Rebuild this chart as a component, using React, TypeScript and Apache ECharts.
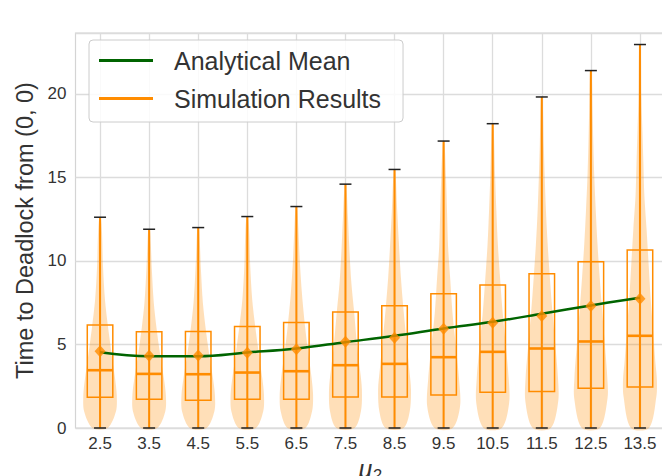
import React, { useEffect, useRef } from "react";
import * as echarts from "echarts";

const categories = ["2.5", "3.5", "4.5", "5.5", "6.5", "7.5", "8.5", "9.5", "10.5", "11.5", "12.5", "13.5"];
const yTicks = [0, 5, 10, 15, 20];
const minVals = [0, 0, 0, 0, 0, 0, 0, 0, 0, 0, 0, 0];
const q1Vals = [1.84, 1.72, 1.66, 1.72, 1.72, 1.86, 1.86, 1.98, 2.14, 2.18, 2.38, 2.46];
const medianVals = [3.46, 3.24, 3.22, 3.32, 3.4, 3.76, 3.84, 4.24, 4.56, 4.76, 5.18, 5.52];
const q3Vals = [6.16, 5.76, 5.78, 6.08, 6.32, 6.94, 7.32, 8.04, 8.56, 9.24, 9.96, 10.66];
const maxVals = [12.62, 11.9, 12.0, 12.66, 13.26, 14.6, 15.48, 17.18, 18.22, 19.82, 21.4, 22.96];
const simMeans = [4.6, 4.32, 4.34, 4.5, 4.72, 5.16, 5.4, 5.94, 6.3, 6.7, 7.3, 7.74];
const analyticalMeans = [4.54, 4.3, 4.3, 4.52, 4.76, 5.14, 5.52, 5.96, 6.36, 6.84, 7.34, 7.8];

// violin outline: [y value, full width as a fraction of the category band]
const violinProfiles: number[][][] = [
  [[0, 0.31], [1, 0.65], [2, 0.68], [3, 0.61], [4, 0.51], [5, 0.42], [6, 0.33], [7.7, 0.2], [9.7, 0.12], [11.7, 0.08], [12.62, 0.03]],
  [[0, 0.33], [1, 0.66], [2, 0.68], [3, 0.6], [4, 0.49], [5, 0.39], [6, 0.3], [7.5, 0.19], [9.5, 0.11], [11, 0.07], [11.9, 0.03]],
  [[0, 0.34], [1, 0.66], [2, 0.68], [3, 0.6], [4, 0.49], [5, 0.39], [6, 0.3], [7.5, 0.19], [9.5, 0.11], [11, 0.07], [12.0, 0.03]],
  [[0, 0.35], [1, 0.65], [2, 0.68], [3, 0.61], [4, 0.51], [5, 0.42], [6, 0.33], [7.7, 0.2], [9.7, 0.12], [11.7, 0.08], [12.66, 0.03]],
  [[0, 0.36], [1, 0.64], [2, 0.68], [3, 0.62], [4, 0.53], [5, 0.44], [6, 0.36], [8, 0.23], [10, 0.14], [12, 0.08], [13.26, 0.03]],
  [[0, 0.37], [1, 0.63], [2.3, 0.67], [3.5, 0.59], [4.7, 0.49], [7, 0.35], [8.7, 0.24], [10.7, 0.16], [12.7, 0.1], [14.6, 0.03]],
  [[0, 0.37], [1, 0.62], [2.3, 0.67], [3.5, 0.6], [5, 0.5], [7, 0.37], [9, 0.26], [11, 0.18], [13, 0.11], [15.48, 0.03]],
  [[0, 0.37], [1.3, 0.67], [2.9, 0.63], [4.9, 0.5], [6.9, 0.36], [8.9, 0.27], [10.9, 0.18], [12.9, 0.14], [14.9, 0.1], [17.18, 0.03]],
  [[0, 0.37], [1.5, 0.67], [3, 0.65], [5, 0.53], [7, 0.4], [9, 0.3], [11, 0.21], [13, 0.15], [15, 0.1], [18.22, 0.03]],
  [[0, 0.37], [1.6, 0.67], [3, 0.66], [5, 0.55], [7, 0.43], [9, 0.33], [11, 0.24], [13, 0.17], [15, 0.12], [17, 0.08], [19.82, 0.03]],
  [[0, 0.37], [1.8, 0.68], [3, 0.67], [5, 0.57], [7, 0.46], [9, 0.36], [11, 0.27], [13, 0.2], [15, 0.14], [17, 0.1], [19, 0.07], [21.4, 0.03]],
  [[0, 0.37], [1.9, 0.67], [2.9, 0.69], [3.9, 0.63], [5.9, 0.53], [7.9, 0.43], [9.9, 0.35], [11.9, 0.27], [13.9, 0.18], [15.9, 0.14], [17.8, 0.1], [19.8, 0.06], [22.96, 0.03]],
];

const ORANGE = "#ff8c00";
const GREEN = "#006400";
const FONT = "Liberation Sans, Arial, sans-serif";

export default function App() {
  const ref = useRef<HTMLDivElement>(null);
  useEffect(() => {
    document.body.style.margin = "0";
    const chart = echarts.init(ref.current!, null, { renderer: "svg" });
    const violinData = categories.map((_, i) => [i, minVals[i], maxVals[i]]);
    const boxData = categories.map((_, i) => [i, minVals[i], q1Vals[i], medianVals[i], q3Vals[i], maxVals[i]]);
    chart.setOption({
      animation: false,
      textStyle: { fontFamily: FONT },
      grid: {
        left: 75.5, right: -2.5, top: 33, bottom: 48,
        outerBoundsMode: "none", containLabel: false,
        show: true, borderColor: "#d4d4d4", borderWidth: 1.2, backgroundColor: "#fff",
      },
      legend: {
        orient: "vertical", left: 89, top: 40,
        data: ["Analytical Mean", "Simulation Results"],
        icon: "rect", itemWidth: 54, itemHeight: 3, itemGap: 11,
        padding: [7, 22, 10, 10],
        backgroundColor: "rgba(255,255,255,0.85)", borderColor: "#cccccc", borderWidth: 1, borderRadius: 4,
        textStyle: { fontSize: 25, color: "#333", fontFamily: FONT, lineHeight: 27, padding: [0, 0, 0, 16] },
      },
      xAxis: {
        type: "category", data: categories, boundaryGap: true,
        axisLine: { show: false }, axisTick: { show: false },
        axisLabel: { fontSize: 17, color: "#333", margin: 7, fontFamily: FONT },
        splitLine: { show: true, alignWithLabel: true, lineStyle: { color: "#dcdcdc", width: 1.3 } },
        name: "{m|μ}{s|2}", nameLocation: "middle", nameGap: 17,
        nameTextStyle: {
          rich: {
            m: { fontSize: 25, fontStyle: "italic", color: "#333", fontFamily: FONT },
            s: { fontSize: 17, fontStyle: "italic", color: "#333", fontFamily: FONT, verticalAlign: "bottom", padding: [12, 0, 0, 0] },
          },
        },
      },
      yAxis: {
        type: "value", min: 0, max: 23.65, interval: 5,
        axisLine: { show: false }, axisTick: { show: false },
        axisLabel: {
          fontSize: 17, color: "#333", margin: 9, fontFamily: FONT,
          formatter: (v: number) => (yTicks.includes(v) ? String(v) : ""),
        },
        splitLine: { show: true, lineStyle: { color: "#dcdcdc", width: 1.3 } },
        name: "Time to Deadlock from (0, 0)", nameLocation: "middle", nameGap: 36,
        nameTextStyle: { fontSize: 23.5, color: "#333", fontFamily: FONT },
      },
      series: [
        {
          type: "custom", name: "Simulation Results", z: 2,
          itemStyle: { color: ORANGE },
          data: violinData, encode: { x: 0, y: [1, 2] },
          renderItem: (params: any, api: any) => {
            const i = api.value(0);
            const prof = violinProfiles[i];
            const band = api.size([1, 0])[0];
            const right = prof.map(([y, w]) => {
              const p = api.coord([i, y]);
              return [p[0] + (w * band) / 2, p[1]];
            });
            const left = prof.slice().reverse().map(([y, w]) => {
              const p = api.coord([i, y]);
              return [p[0] - (w * band) / 2, p[1]];
            });
            return {
              type: "polygon",
              shape: { points: [...right, ...left], smooth: 0.3 },
              style: { fill: "rgba(255,140,0,0.28)", stroke: "none" },
            };
          },
        },
        {
          type: "custom", name: "Simulation Results", z: 3,
          itemStyle: { color: ORANGE },
          data: boxData, encode: { x: 0, y: [1, 2, 3, 4, 5] },
          renderItem: (params: any, api: any) => {
            const i = api.value(0);
            const band = api.size([1, 0])[0];
            const bw = band * 0.52;
            const cw = 12;
            const pMin = api.coord([i, api.value(1)]);
            const pQ1 = api.coord([i, api.value(2)]);
            const pMed = api.coord([i, api.value(3)]);
            const pQ3 = api.coord([i, api.value(4)]);
            const pMax = api.coord([i, api.value(5)]);
            const cx = pMin[0];
            return {
              type: "group",
              children: [
                { type: "line", shape: { x1: cx, y1: pMin[1], x2: cx, y2: pMax[1] }, style: { stroke: ORANGE, lineWidth: 2 } },
                { type: "rect", shape: { x: cx - bw / 2, y: pQ3[1], width: bw, height: pQ1[1] - pQ3[1] }, style: { fill: "none", stroke: ORANGE, lineWidth: 1.5 } },
                { type: "line", shape: { x1: cx - bw / 2, y1: pMed[1], x2: cx + bw / 2, y2: pMed[1] }, style: { stroke: ORANGE, lineWidth: 2.6 } },
                { type: "line", shape: { x1: cx - cw / 2, y1: pMax[1], x2: cx + cw / 2, y2: pMax[1] }, style: { stroke: "#222", lineWidth: 1.5 } },
                { type: "line", shape: { x1: cx - cw / 2, y1: pMin[1], x2: cx + cw / 2, y2: pMin[1] }, style: { stroke: "#222", lineWidth: 1.5 } },
              ],
            };
          },
        },
        {
          type: "line", name: "Analytical Mean", data: analyticalMeans, smooth: 0.4,
          showSymbol: false, symbol: "none", z: 4,
          itemStyle: { color: GREEN }, lineStyle: { color: GREEN, width: 2.5 },
        },
        {
          type: "scatter", name: "Simulation Results", data: simMeans, symbol: "diamond", symbolSize: [11, 12], z: 5,
          itemStyle: { color: ORANGE },
        },
      ],
    });
    return () => chart.dispose();
  }, []);
  return <div ref={ref} style={{ width: 662, height: 476 }} />;
}
